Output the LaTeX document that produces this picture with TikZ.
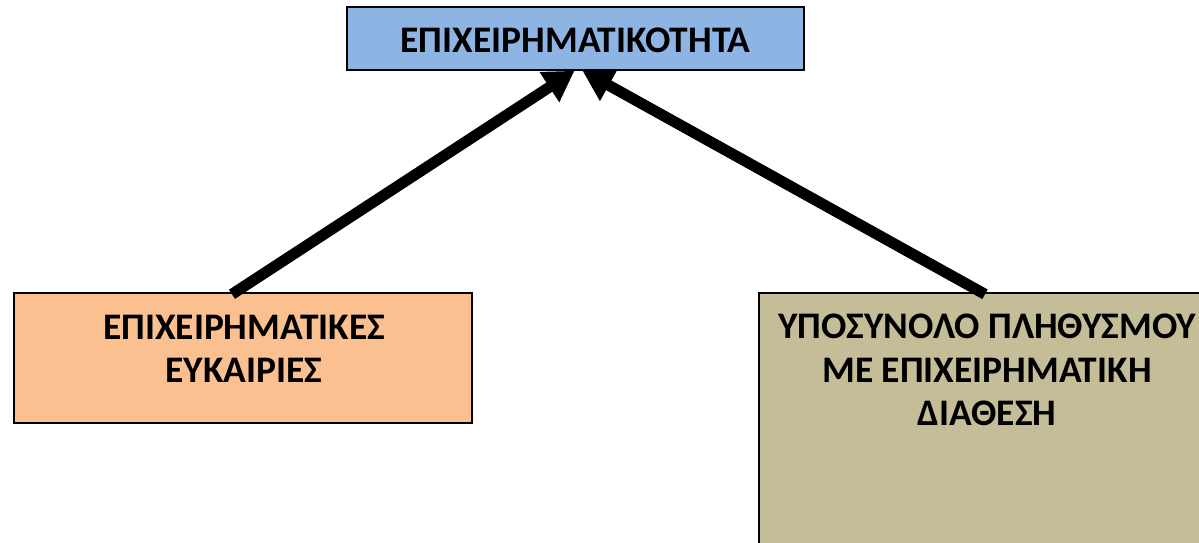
\documentclass[tikz,border=0pt]{standalone}
\usepackage{fontspec}
\setmainfont{Carlito}
\usetikzlibrary{arrows.meta,calc}
\definecolor{topblue}{HTML}{8DB4E2}
\definecolor{leftor}{HTML}{FAC090}
\definecolor{khaki}{HTML}{C4BD97}
\tikzset{
  box/.style={draw=black, line width=1.5pt, inner sep=0pt},
  lbl/.style={font=\bfseries\fontsize{37.5}{43.5}\selectfont, align=center, inner sep=0pt},
  conn/.style={line width=11pt, -{Triangle[length=30pt,width=34pt]}},
}
\begin{document}
\begin{tikzpicture}[x=1pt,y=-1pt]
\useasboundingbox (0,0) rectangle (1199,543);
\clip (0,0) rectangle (1199,543);
\node[box, fill=topblue, minimum width=457pt, minimum height=63pt] (t) at (575.5,38.5) {};
\node[lbl] (tt) at (575.5,40) {ΕΠΙΧΕΙΡΗΜΑΤΙΚΟΤΗΤΑ};
\node[box, fill=leftor, minimum width=458pt, minimum height=130pt] (l) at (243,358) {};
\node[lbl] (lt) at (244,349) {ΕΠΙΧΕΙΡΗΜΑΤΙΚΕΣ\\ΕΥΚΑΙΡΙΕΣ};
\node[box, fill=khaki, minimum width=456pt, minimum height=320pt] (r) at (987,453) {};
\node[lbl] (rt) at (987,370) {ΥΠΟΣΥΝΟΛΟ ΠΛΗΘΥΣΜΟΥ\\ΜΕ ΕΠΙΧΕΙΡΗΜΑΤΙΚΗ\\ΔΙΑΘΕΣΗ};
\coordinate (ls) at ($(l.north)+(-11,2)$);
\coordinate (rs) at ($(r.north)+(-2,2)$);
\coordinate (lend) at ($(t.south)+(-1,0)$);
\coordinate (rend) at ($(t.south)+(7,0)$);
\draw[conn] (ls) -- (lend);
\draw[conn] (rs) -- (rend);
\end{tikzpicture}
\end{document}
